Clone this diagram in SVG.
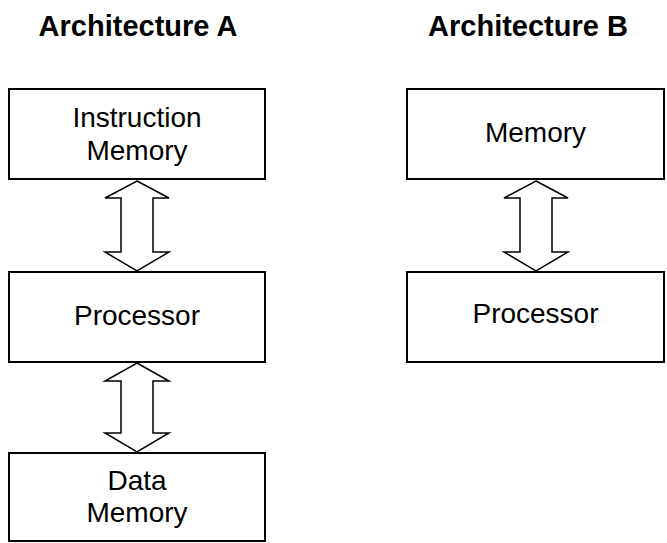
<svg xmlns="http://www.w3.org/2000/svg" width="667" height="543" viewBox="0 0 667 543">
<style>
.box{fill:#fff;stroke:#000;stroke-width:2}
.arr{fill:#fff;stroke:#000;stroke-width:1.5;stroke-linejoin:miter}
.t{font-family:"Liberation Sans",Arial,sans-serif;font-size:28px;fill:#000;text-anchor:middle}
.h{font-family:"Liberation Sans",Arial,sans-serif;font-size:29px;font-weight:bold;fill:#000;text-anchor:middle}
</style>
<rect width="667" height="543" fill="#fff"/>
<text class="h" x="138" y="36">Architecture A</text>
<text class="h" x="528" y="36">Architecture B</text>
<g id="connectors">
<path class="arr" d="M137,181 L169,198 L153,198 L153,252 L169,252 L137,271 L105,252 L121,252 L121,198 L105,198 Z"/>
<path class="arr" d="M137,363 L169,381 L153,381 L153,433 L169,433 L137,452 L105,433 L121,433 L121,381 L105,381 Z"/>
<path class="arr" d="M536,181 L568,198 L552,198 L552,252 L568,252 L536,271 L504,252 L520,252 L520,198 L504,198 Z"/>
</g>
<g id="instr-mem">
<rect class="box" x="9" y="89" width="256" height="90"/>
<text class="t" x="137" y="127">Instruction</text>
<text class="t" x="137" y="160">Memory</text>
</g>
<g id="proc-a">
<rect class="box" x="9" y="272" width="256" height="90"/>
<text class="t" x="137" y="325">Processor</text>
</g>
<g id="data-mem">
<rect class="box" x="9" y="453" width="256" height="88"/>
<text class="t" x="137" y="490">Data</text>
<text class="t" x="137" y="522">Memory</text>
</g>
<g id="mem-b">
<rect class="box" x="407" y="89" width="257" height="90"/>
<text class="t" x="535.5" y="142">Memory</text>
</g>
<g id="proc-b">
<rect class="box" x="407" y="272" width="257" height="90"/>
<text class="t" x="535.5" y="323">Processor</text>
</g>
</svg>
